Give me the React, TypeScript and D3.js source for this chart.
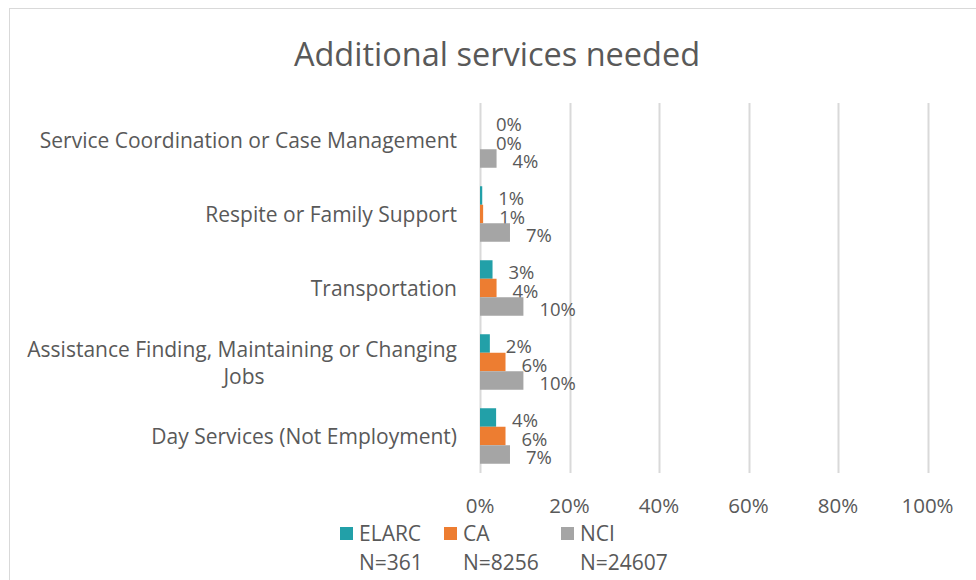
import React, { useRef, useEffect } from "react";
import * as d3 from "d3";

const categories = [
  "Service Coordination or Case Management",
  "Respite or Family Support",
  "Transportation",
  "Assistance Finding, Maintaining or Changing Jobs",
  "Day Services (Not Employment)",
];
const seriesNames = ["ELARC", "CA", "NCI"];
const seriesN = ["N=361", "N=8256", "N=24607"];
const seriesColors = ["#22A0A8", "#ED7D31", "#A5A5A5"];
const elarcValues = [0, 0.5, 2.8, 2.2, 3.6];
const caValues = [0, 0.7, 3.7, 5.7, 5.7];
const nciValues = [3.7, 6.7, 9.7, 9.7, 6.7];
const xTicks = [0, 20, 40, 60, 80, 100];

const FONT = "'Open Sans', 'Noto Sans', sans-serif";
const TEXT = "#595959";

const App: React.FC = () => {
  const ref = useRef<SVGSVGElement | null>(null);

  useEffect(() => {
    const svg = d3.select(ref.current);
    svg.selectChildren().remove();

    // chart frame
    svg
      .append("rect")
      .attr("x", 9.5)
      .attr("y", 8.5)
      .attr("width", 990)
      .attr("height", 600)
      .attr("fill", "#fff")
      .attr("stroke", "#D9D9D9");

    svg
      .append("text")
      .attr("x", 497)
      .attr("y", 53)
      .attr("text-anchor", "middle")
      .attr("dominant-baseline", "central")
      .attr("font-family", FONT)
      .attr("font-size", 32.5)
      .attr("fill", TEXT)
      .text("Additional services needed");

    const x = d3.scaleLinear().domain([0, 100]).range([480, 927.5]);
    const y = d3.scaleBand().domain(categories).range([103, 473]).paddingInner(0.25).paddingOuter(0.125);
    const sub = d3.scaleBand().domain(seriesNames).range([0, y.bandwidth()]);

    // gridlines
    svg
      .append("g")
      .selectAll("line")
      .data(xTicks)
      .join("line")
      .attr("x1", (d) => Math.round(x(d)) + 0.5)
      .attr("x2", (d) => Math.round(x(d)) + 0.5)
      .attr("y1", 103)
      .attr("y2", 473)
      .attr("stroke", "#D9D9D9")
      .attr("stroke-width", 2);

    // x tick labels
    svg
      .append("g")
      .selectAll("text")
      .data(xTicks)
      .join("text")
      .attr("x", (d) => x(d))
      .attr("y", 505)
      .attr("text-anchor", "middle")
      .attr("dominant-baseline", "central")
      .attr("font-family", FONT)
      .attr("font-size", 20.5)
      .attr("fill", TEXT)
      .text((d) => `${d}%`);

    // category labels
    const catG = svg.append("g");
    categories.forEach((c) => {
      const cy = (y(c) as number) + y.bandwidth() / 2;
      const lines = c === categories[3] ? ["Assistance Finding, Maintaining or Changing", "Jobs"] : [c];
      lines.forEach((ln, i) => {
        catG
          .append("text")
          .attr("x", lines.length > 1 && i === 1 ? 244 : 457)
          .attr("y", cy + (i - (lines.length - 1) / 2) * 27)
          .attr("text-anchor", lines.length > 1 && i === 1 ? "middle" : "end")
          .attr("dominant-baseline", "central")
          .attr("font-family", FONT)
          .attr("font-size", 21)
          .attr("fill", TEXT)
          .text(ln);
      });
    });

    const series = [elarcValues, caValues, nciValues];
    series.forEach((vals, si) => {
      const g = svg.append("g");
      const name = seriesNames[si];
      g.selectAll("rect")
        .data(vals)
        .join("rect")
        .attr("x", x(0))
        .attr("y", (_, i) => (y(categories[i]) as number) + (sub(name) as number))
        .attr("width", (d) => x(d) - x(0))
        .attr("height", sub.bandwidth())
        .attr("fill", seriesColors[si]);
      g.selectAll("text")
        .data(vals)
        .join("text")
        .attr("x", (d) => x(d) + 16)
        .attr("y", (_, i) => (y(categories[i]) as number) + (sub(name) as number) + sub.bandwidth() / 2 + 2)
        .attr("dominant-baseline", "central")
        .attr("font-family", FONT)
        .attr("font-size", 18.5)
        .attr("fill", TEXT)
        .text((d) => `${Math.round(d)}%`);
    });

    // legend
    const legendX = [340, 444, 561];
    seriesNames.forEach((n, i) => {
      svg
        .append("rect")
        .attr("x", legendX[i])
        .attr("y", 527)
        .attr("width", 13)
        .attr("height", 13)
        .attr("fill", seriesColors[i]);
      svg
        .append("text")
        .attr("x", legendX[i] + 19)
        .attr("y", 533)
        .attr("dominant-baseline", "central")
        .attr("font-family", FONT)
        .attr("font-size", 21)
        .attr("fill", TEXT)
        .text(n);
      svg
        .append("text")
        .attr("x", legendX[i] + 19)
        .attr("y", 562)
        .attr("dominant-baseline", "central")
        .attr("font-family", FONT)
        .attr("font-size", 21)
        .attr("fill", TEXT)
        .text(seriesN[i]);
    });
  }, []);

  return (
    <svg
      ref={ref}
      width={976}
      height={580}
      style={{ position: "absolute", left: 0, top: 0, display: "block" }}
    />
  );
};

export default App;
